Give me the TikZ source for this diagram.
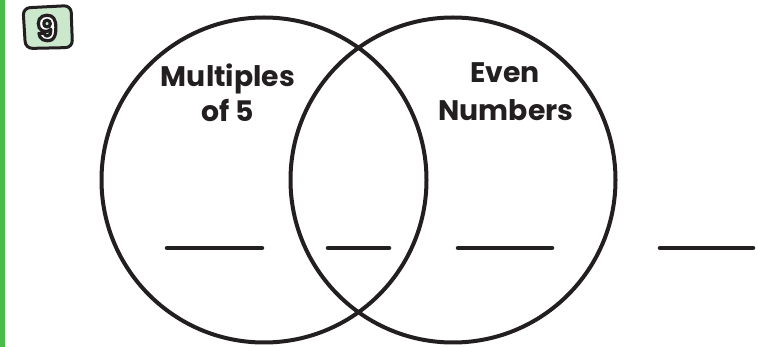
\documentclass[tikz,border=0pt]{standalone}
\usepackage{fontspec}
\setmainfont{Poppins}
\definecolor{barg}{RGB}{77,185,72}
\definecolor{badgeg}{RGB}{204,232,204}
\definecolor{ink}{RGB}{35,31,32}
\newcommand{\outlinedtext}[1]{\textcolor{white}{\special{pdf:literal direct 2 Tr 3.2 w 1 J 1 j 0.137 0.122 0.125 RG}#1\special{pdf:literal direct 0 Tr}}}
\begin{document}
\begin{tikzpicture}[x=1pt,y=-1pt,
  ring/.style={draw=ink,line width=4pt},
  blank/.style={draw=ink,line width=4.5pt,line cap=round},
  lbl/.style={text=ink,font=\bfseries\fontsize{28.3}{36}\selectfont,align=center,inner sep=0pt,anchor=base}]
\useasboundingbox (0,0) rectangle (758,347);
\fill[barg] (0,0) rectangle (5,347);
% badge
\draw[ink,line width=3pt,fill=badgeg,rounded corners=7pt]
  (23,8) -- (71,5.5) -- (72.5,47.5) -- (25.5,48.5) -- cycle;
\node[inner sep=0pt,font=\bfseries\fontsize{34}{34}\selectfont] (num) at (47,28) {\outlinedtext{9}};
% circles
\node[ring,circle,minimum size=325pt,inner sep=0pt] (L) at (264,180) {};
\node[ring,circle,minimum size=325pt,inner sep=0pt] (R) at (453,180) {};
% labels
\node[lbl] (m1) at (228,87) {Multiples};
\node[lbl] (m2) at (228,122) {of 5};
\node[lbl] (e1) at (505,83) {Even};
\node[lbl] (e2) at (506,121) {Numbers};
% blanks
\coordinate (a1) at (167,248); \coordinate (a2) at (262,248);
\coordinate (b1) at (328,248); \coordinate (b2) at (389,248);
\coordinate (c1) at (458,248); \coordinate (c2) at (552,248);
\coordinate (d1) at (660,248); \coordinate (d2) at (753,248);
\draw[blank] (a1) -- (a2);
\draw[blank] (b1) -- (b2);
\draw[blank] (c1) -- (c2);
\draw[blank] (d1) -- (d2);
\end{tikzpicture}
\end{document}
